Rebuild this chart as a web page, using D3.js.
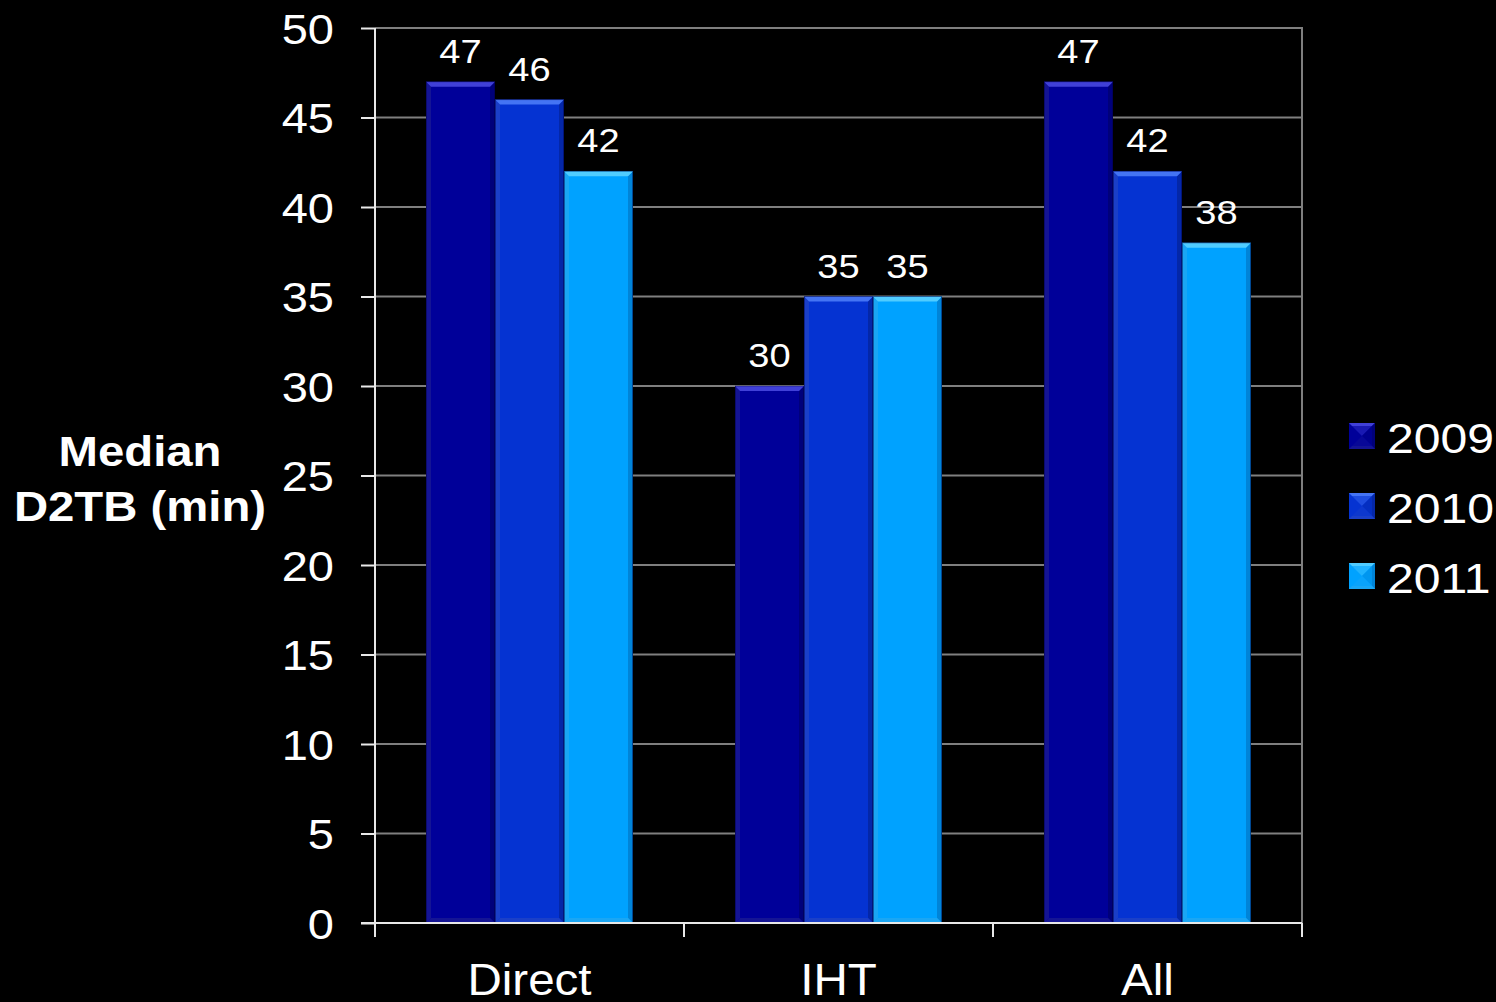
<!DOCTYPE html>
<html lang="en">
<head>
    <meta charset="UTF-8">
    <script src="https://cdn.jsdelivr.net/npm/d3@7/dist/d3.min.js"></script>
    <title>Median D2TB</title>
    <style>
        html, body { margin: 0; padding: 0; background: #000; overflow: hidden; }
        text { font-family: "Liberation Sans", Arial, sans-serif; fill: #fff; }
    </style>
</head>
<body>
</body>
<script>

    // data
    const categories = ["Direct", "IHT", "All"];
    const years = ["2009", "2010", "2011"];
    const values2009 = [47, 30, 47];
    const values2010 = [46, 35, 42];
    const values2011 = [42, 35, 38];
    const yTicks = [0, 5, 10, 15, 20, 25, 30, 35, 40, 45, 50];

    const series = [values2009, values2010, values2011];
    const colors = {
        "2009": {main: "#000099", top: "#4040d8", side: "#00007a", bottom: "#141494"},
        "2010": {main: "#0533d2", top: "#4474f4", side: "#0427a8", bottom: "#1a3fc8"},
        "2011": {main: "#00a2ff", top: "#50ccff", side: "#0084d8", bottom: "#1aa6f4"}
    };

    let width = 1496, height = 1002;
    let svg = d3.select("body")
        .append("svg")
        .attr("width", width)
        .attr("height", height);

    let plotLeft = 375, plotRight = 1302, plotTop = 28, plotBottom = 923;

    let x = d3.scaleBand().domain(categories).range([plotLeft, plotRight]);
    // ~51px gap at each side of a 309px band
    let xInner = d3.scaleBand().domain(years).range([51, x.bandwidth() - 51]).padding(0);
    let y = d3.scaleLinear().domain([0, 50]).range([plotBottom, plotTop]);

    // gridlines
    svg.append("g")
        .selectAll("line")
        .data(yTicks.filter(d => d > 0))
        .join("line")
        .attr("x1", plotLeft).attr("x2", plotRight)
        .attr("y1", d => y(d)).attr("y2", d => y(d))
        .attr("stroke", "#7f7f7f")
        .attr("stroke-width", 2);

    // right border
    svg.append("line")
        .attr("x1", plotRight).attr("x2", plotRight)
        .attr("y1", plotTop - 1).attr("y2", plotBottom)
        .attr("stroke", "#7f7f7f")
        .attr("stroke-width", 2);

    // bars
    const b = 5;
    let rows = [];
    categories.forEach((c, i) => {
        years.forEach((yr, j) => {
            rows.push({cat: c, year: yr, value: series[j][i]});
        });
    });

    let bars = svg.append("g")
        .selectAll("g")
        .data(rows)
        .join("g")
        .attr("transform", d => `translate(${x(d.cat) + xInner(d.year)},0)`);

    bars.each(function (d) {
        let g = d3.select(this);
        let w = xInner.bandwidth();
        let y0 = y(d.value), y1 = y(0);
        let c = colors[d.year];
        g.append("rect")
            .attr("x", 0).attr("y", y0)
            .attr("width", w).attr("height", y1 - y0)
            .attr("fill", c.main);
        // left and right edges
        g.append("polygon")
            .attr("points", [[0, y0], [b, y0 + b], [b, y1 - b], [0, y1]].join(" "))
            .attr("fill", c.bottom);
        g.append("polygon")
            .attr("points", [[w, y0], [w - b, y0 + b], [w - b, y1 - b], [w, y1]].join(" "))
            .attr("fill", c.side);
        // bottom bevel
        g.append("polygon")
            .attr("points", [[0, y1], [w, y1], [w - b, y1 - b], [b, y1 - b]].join(" "))
            .attr("fill", c.bottom);
        // top bevel
        g.append("polygon")
            .attr("points", [[0, y0], [w, y0], [w - b, y0 + b], [b, y0 + b]].join(" "))
            .attr("fill", c.top);
        g.append("rect")
            .attr("x", 0.5).attr("y", y0)
            .attr("width", w - 1).attr("height", y1 - y0)
            .attr("fill", "none")
            .attr("stroke", "#000040")
            .attr("stroke-opacity", 0.45)
            .attr("stroke-width", 1);
        // value label
        g.append("text")
            .attr("transform", `translate(${w / 2},${y0 - 19}) scale(1.12,1)`)
            .attr("text-anchor", "middle")
            .style("font-size", "34px")
            .text(d.value);
    });

    // y axis
    let yAxis = svg.append("g")
        .attr("transform", `translate(${plotLeft},0)`)
        .call(d3.axisLeft(y).tickValues(yTicks).tickSize(14).tickPadding(0).tickFormat(d3.format("d")));
    yAxis.select(".domain").remove();
    yAxis.selectAll(".tick line").attr("stroke", "#e8e8e8").attr("stroke-width", 2);
    yAxis.selectAll(".tick text")
        .attr("x", null).attr("dy", null)
        .attr("transform", "translate(-41,15) scale(1.12,1)")
        .attr("text-anchor", "end")
        .style("font-size", "42px")
        .style("font-family", "'Liberation Sans', Arial, sans-serif")
        .attr("fill", "#fff");
    svg.append("line")
        .attr("x1", plotLeft).attr("x2", plotLeft)
        .attr("y1", plotTop).attr("y2", plotBottom + 14)
        .attr("stroke", "#e8e8e8")
        .attr("stroke-width", 2);

    // x axis
    svg.append("line")
        .attr("x1", plotLeft - 14).attr("x2", plotRight)
        .attr("y1", plotBottom).attr("y2", plotBottom)
        .attr("stroke", "#e8e8e8")
        .attr("stroke-width", 2);
    let boundaries = categories.map(c => x(c)).concat([plotRight]);
    svg.append("g")
        .selectAll("line")
        .data(boundaries)
        .join("line")
        .attr("x1", d => d).attr("x2", d => d)
        .attr("y1", plotBottom).attr("y2", plotBottom + 14)
        .attr("stroke", "#e8e8e8")
        .attr("stroke-width", 2);
    svg.append("g")
        .selectAll("text")
        .data(categories)
        .join("text")
        .attr("transform", d => `translate(${x(d) + x.bandwidth() / 2},995) scale(1.08,1)`)
        .attr("text-anchor", "middle")
        .style("font-size", "44px")
        .text(d => d);

    // y axis title
    let title = svg.append("g")
        .attr("transform", "translate(140,0)");
    ["Median", "D2TB (min)"].forEach((t, i) => {
        title.append("text")
            .attr("transform", `translate(0,${466 + i * 55}) scale(1.1,1)`)
            .attr("text-anchor", "middle")
            .style("font-size", "43px")
            .style("font-weight", "bold")
            .text(t);
    });

    // legend
    let legend = svg.append("g")
        .selectAll("g")
        .data(years)
        .join("g")
        .attr("transform", (d, i) => `translate(1349,${423 + i * 70})`);
    legend.each(function (d) {
        let g = d3.select(this);
        let s = 26, c = colors[d], m = s / 2;
        g.append("rect").attr("width", s).attr("height", s).attr("fill", c.main);
        g.append("polygon").attr("points", [[0, 0], [s, 0], [m, m]].join(" ")).attr("fill", c.top);
        g.append("polygon").attr("points", [[s, 0], [s, s], [m, m]].join(" ")).attr("fill", c.side);
        g.append("polygon").attr("points", [[0, s], [s, s], [m, m]].join(" ")).attr("fill", c.bottom);
        g.append("rect").attr("x", 3).attr("y", 3).attr("width", s - 6).attr("height", s - 6)
            .attr("fill", c.main).attr("fill-opacity", 0.6);
        g.append("text")
            .attr("transform", "translate(38,30) scale(1.12,1)")
            .style("font-size", "43px")
            .text(d);
    });

</script>
</html>
